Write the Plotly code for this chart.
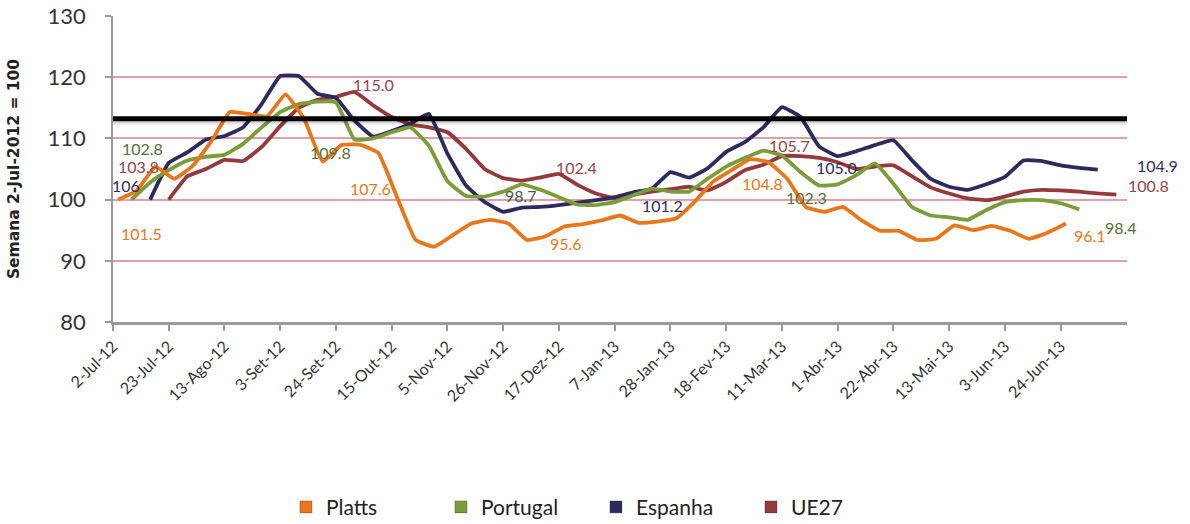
import pandas as pd
import plotly.graph_objects as go

# Weekly index values (week of 2-Jul-2012 = 100)
platts = [100.0, 101.5, 105.4, 103.4, 105.5, 109.5, 114.3, 114.0, 113.6, 117.2,
          113.2, 106.2, 108.9, 109.0, 107.6, 100.4, 93.4, 92.3, 94.2, 96.1,
          96.7, 96.1, 93.4, 94.0, 95.6, 96.0, 96.6, 97.4, 96.2, 96.4,
          96.9, 99.6, 102.9, 104.8, 106.6, 106.1, 103.4, 98.8, 98.0, 98.8,
          96.6, 94.9, 94.9, 93.4, 93.6, 95.8, 95.0, 95.7, 94.9, 93.6,
          94.6, 96.1]
portugal = [100.0, 102.8, 104.8, 106.4, 107.0, 107.3, 109.1, 111.8, 114.3, 115.6,
            116.0, 115.9, 109.8, 110.0, 111.0, 111.8, 108.8, 103.0, 100.6, 100.5,
            101.3, 102.5, 101.6, 100.4, 99.2, 99.1, 99.6, 100.7, 101.8, 101.3,
            101.3, 103.4, 105.4, 106.8, 108.0, 107.2, 104.5, 102.3, 102.5, 104.0,
            105.9, 102.6, 98.8, 97.4, 97.1, 96.7, 98.3, 99.6, 99.9, 99.9,
            99.4, 98.4]
espanha = [100.0, 106.0, 107.7, 109.8, 110.4, 111.8, 115.6, 120.2, 120.2, 117.3,
           116.6, 112.9, 110.3, 111.2, 112.4, 114.0, 107.5, 102.3, 99.6, 98.0,
           98.7, 98.8, 99.1, 99.5, 99.9, 100.4, 101.2, 101.8, 104.5, 103.6,
           105.1, 107.8, 109.4, 111.8, 115.1, 113.5, 108.7, 107.1, 107.9, 108.9,
           109.7, 106.4, 103.4, 102.1, 101.6, 102.5, 103.7, 106.4, 106.3, 105.6,
           105.2, 104.9]
ue27 = [100.0, 103.8, 105.0, 106.5, 106.3, 108.6, 112.0, 115.0, 116.3, 116.8,
        117.6, 115.4, 113.5, 112.3, 111.8, 111.0, 108.3, 105.0, 103.5, 103.1,
        103.6, 104.2, 102.4, 101.0, 100.2, 100.8, 101.3, 101.7, 102.1, 101.5,
        102.9, 104.8, 105.7, 107.1, 107.1, 106.8, 106.1, 105.0, 105.4, 105.6,
        103.8, 102.0, 101.0, 100.2, 99.9, 100.5, 101.3, 101.6, 101.5, 101.3,
        101.0, 100.8]

series_names = ["Platts", "Portugal", "Espanha", "UE27"]
series_values = [platts, portugal, espanha, ue27]
series_start = ["2012-07-04", "2012-07-09", "2012-07-16", "2012-07-23"]
line_colors = ["#E8761A", "#7A9C3A", "#2F2A5C", "#933A3C"]
label_colors = ["#E07A22", "#55703A", "#2F2E58", "#94454A"]

tick_dates = pd.date_range("2012-07-02", periods=18, freq="21D")
tick_text = ["2-Jul-12", "23-Jul-12", "13-Ago-12", "3-Set-12", "24-Set-12",
             "15-Out-12", "5-Nov-12", "26-Nov-12", "17-Dez-12", "7-Jan-13",
             "28-Jan-13", "18-Fev-13", "11-Mar-13", "1-Abr-13", "22-Abr-13",
             "13-Mai-13", "3-Jun-13", "24-Jun-13"]

reference_level = 113.2

# Data labels: (series, point index, x shift px, y shift px, decimals, colour override)
point_labels = [
    (0, 1, 5, -43, 1, None), (0, 14, -8, -35, 1, None), (0, 24, 2, -17, 1, None),
    (0, 33, 31, -13, 1, None), (0, 51, 24, -12, 1, None),
    (1, 1, -8, 34, 1, None), (1, 12, -24, -13, 1, None), (1, 37, -13, -12, 1, None),
    (1, 51, 42, -18, 1, None),
    (2, 1, -43, -23, 0, None), (2, 20, -1, 12, 1, "#4B5A45"), (2, 26, 29, -13, 1, None),
    (2, 51, 60, 4, 1, None),
    (3, 1, -49, 10, 1, None), (3, 7, 75, 23, 1, None), (3, 22, -1, 17, 1, None),
    (3, 32, 26, 19, 1, None), (3, 37, -20, 2, 1, "#2F2E58"), (3, 51, 32, 9, 1, None),
]

FONT = "Lato, 'Open Sans', sans-serif"

fig = go.Figure()

series_dates = [pd.date_range(s, periods=len(v), freq="7D")
                for s, v in zip(series_start, series_values)]

# Lines: UE27 at the back, Platts in front
for k in [3, 2, 1, 0]:
    fig.add_trace(go.Scatter(
        x=series_dates[k], y=series_values[k], mode="lines",
        line=dict(color=line_colors[k], width=3.8, shape="spline", smoothing=0.35),
        name=series_names[k], showlegend=False, hoverinfo="x+y+name"))

# Square legend keys
for k in range(4):
    fig.add_trace(go.Scatter(
        x=[None], y=[None], mode="markers", name=series_names[k],
        marker=dict(symbol="square", size=12, color=line_colors[k],
                    line=dict(color="rgba(0,0,0,0.25)", width=1))))

for k, i, dx, dy, dec, col in point_labels:
    v = series_values[k][i]
    fig.add_annotation(
        x=series_dates[k][i], y=v, text=f"{v:.{dec}f}", showarrow=False,
        xshift=dx, yshift=dy, xanchor="center", yanchor="middle",
        font=dict(family=FONT, size=16, color=col or label_colors[k]))

# Reference level with a soft drop shadow
for off, col, w in [(-0.75, "rgba(0,0,0,0.05)", 4), (-0.45, "rgba(0,0,0,0.12)", 4)]:
    fig.add_shape(type="line", xref="paper", x0=0, x1=1,
                  y0=reference_level + off, y1=reference_level + off,
                  line=dict(color=col, width=w), layer="above")
fig.add_shape(type="line", xref="paper", x0=0, x1=1,
              y0=reference_level, y1=reference_level,
              line=dict(color="#000000", width=5), layer="above")

fig.update_layout(
    width=1190, height=524,
    margin=dict(l=113, r=63, t=16, b=202),
    paper_bgcolor="white", plot_bgcolor="white",
    font=dict(family=FONT, color="#333333"),
    legend=dict(orientation="h", xref="container", x=0.2403, xanchor="left",
                yref="container", y=0.032, yanchor="middle",
                font=dict(family=FONT, size=21, color="#222222"),
                entrywidth=110, entrywidthmode="pixels", itemwidth=30),
    xaxis=dict(
        type="date", range=["2012-07-02", "2013-07-19"], automargin=False,
        tickvals=tick_dates, ticktext=tick_text, tickangle=-45,
        tickfont=dict(family=FONT, size=16, color="#333333"),
        showgrid=False, zeroline=False,
        showline=True, linecolor="#9A9A9A", linewidth=2.5,
        ticks="outside", ticklen=6, tickcolor="#9A9A9A", tickwidth=1.5),
    yaxis=dict(
        range=[80, 130], tickvals=[80, 90, 100, 110, 120, 130], automargin=False,
        tickfont=dict(family=FONT, size=22, color="#333333"),
        showgrid=True, gridcolor="#DCA2A8", gridwidth=2,
        zeroline=False, showline=True, linecolor="#9A9A9A", linewidth=1.5,
        ticks="outside", ticklen=6, tickcolor="#9A9A9A", tickwidth=1.5,
        ticklabelstandoff=15,
        title=dict(text="<b>Semana 2-Jul-2012 = 100</b>", standoff=24,
                   font=dict(family="DejaVu Sans", size=15.5, color="#222222"))),
)

fig.write_html("out.html")
